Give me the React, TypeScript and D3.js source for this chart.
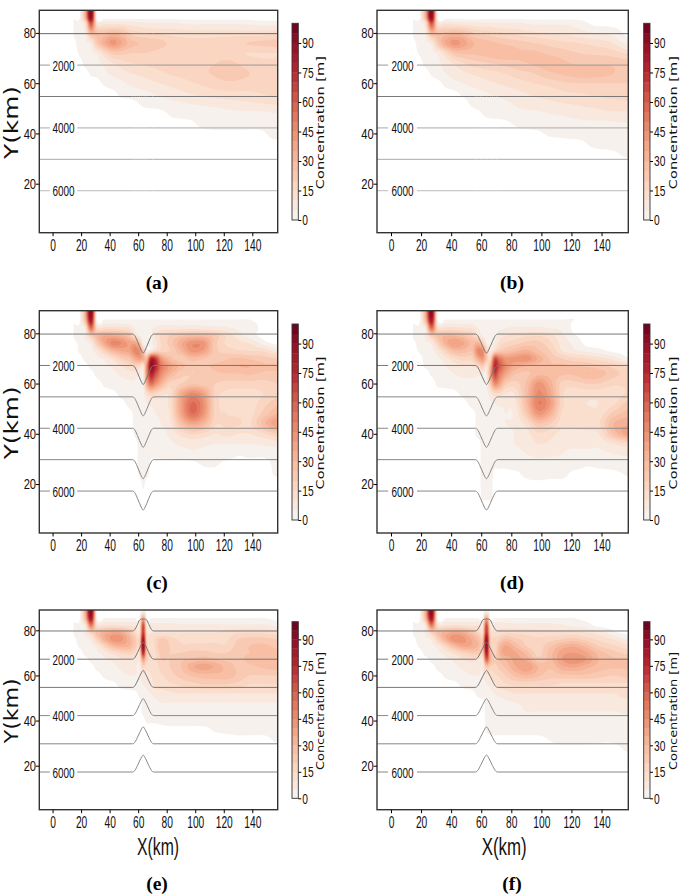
import { useEffect, useRef } from "react";
import * as d3 from "d3";

// grid of the far-field panels (a, b), km
const plainX = [15, 19, 23, 27, 31, 36, 42, 48, 55, 65, 75, 85, 95, 105, 115, 125, 135, 145, 158];
const plainY = [89, 86, 84, 80, 76, 72, 68, 64, 60, 56, 52, 48, 44, 40, 36, 32, 28];
// grid of the seamount panels (c-f), km
const ridgeX = [15, 19, 23, 27, 31, 36, 42, 48, 54, 58, 61, 63.5, 66, 69, 72, 76, 82, 90, 98, 106, 114, 122, 130, 138, 148, 158];
const ridgeY = [89, 85.5, 82, 79, 76, 73, 70, 67, 64, 60, 56, 52, 48, 44, 40, 36, 32, 28, 24, 20, 14];

const concA = [
  [0, 0, 35, 95, 0, 0, 0, 0, 0, 0, 0, 0, 0, 0, 0, 0, 0, 0, 0],
  [0, 0, 32, 90, 0, 0, 0, 0, 0, 0, 0, 0, 0, 0, 0, 0, 0, 0, 0],
  [3, 4, 12, 65, 10, 8, 8, 8, 7, 6, 5, 5, 4, 4, 4, 4, 4, 3, 3],
  [2, 4, 6, 30, 25, 25, 28, 26, 18, 15, 14, 13, 12, 12, 12, 12, 12, 12, 13],
  [0, 3, 4, 7, 22, 33, 42, 36, 27, 24, 22, 18, 17, 17, 18, 19, 20, 21, 22],
  [0, 1.5, 3, 4, 6, 14, 22, 22, 20, 20, 18, 16, 17, 18, 19, 17, 15, 15, 15],
  [0, 0, 2, 3, 4, 6, 10, 13, 15, 16, 17, 18, 18, 19, 20, 21, 18, 16, 16],
  [0, 0, 0, 1.5, 2, 4, 6, 8, 10, 12, 14, 16, 17, 19, 21, 23, 21, 18, 18],
  [0, 0, 0, 0, 0, 1.5, 3, 4, 6, 8, 10, 12, 14, 16, 18, 19, 18, 17, 18],
  [0, 0, 0, 0, 0, 0, 0, 2, 3, 4, 6, 8, 10, 12, 13, 14, 14, 15, 17],
  [0, 0, 0, 0, 0, 0, 0, 0, 0, 2, 3, 4, 5, 6, 7, 8, 9, 10, 11],
  [0, 0, 0, 0, 0, 0, 0, 0, 0, 0, 0, 2, 3, 3, 3, 4, 4, 4, 5],
  [0, 0, 0, 0, 0, 0, 0, 0, 0, 0, 0, 0, 0, 2, 3, 3, 3, 3, 3],
  [0, 0, 0, 0, 0, 0, 0, 0, 0, 0, 0, 0, 0, 0, 0, 0, 0, 0, 3],
  [0, 0, 0, 0, 0, 0, 0, 0, 0, 0, 0, 0, 0, 0, 0, 0, 0, 0, 0],
  [0, 0, 0, 0, 0, 0, 0, 0, 0, 0, 0, 0, 0, 0, 0, 0, 0, 0, 0],
  [0, 0, 0, 0, 0, 0, 0, 0, 0, 0, 0, 0, 0, 0, 0, 0, 0, 0, 0],
];

const concB = [
  [0, 0, 35, 95, 0, 0, 0, 0, 0, 0, 0, 0, 0, 0, 0, 0, 0, 0, 0],
  [0, 0, 32, 90, 0, 0, 0, 0, 0, 0, 0, 0, 0, 0, 0, 0, 0, 0, 0],
  [3, 4, 12, 65, 10, 9, 8, 7, 6, 6, 5, 5, 4, 4, 4, 3, 0, 0, 0],
  [2, 4, 6, 30, 25, 26, 28, 26, 20, 17, 15, 13, 11, 10, 9, 7, 5, 4, 0],
  [0, 3, 4, 7, 22, 35, 42, 38, 30, 27, 24, 22, 20, 18, 16, 15, 13, 11, 3],
  [0, 1.5, 3, 4, 6, 14, 24, 26, 26, 28, 30, 26, 26, 24, 22, 20, 19, 18, 14],
  [0, 0, 2, 3, 4, 7, 11, 15, 18, 20, 22, 24, 26, 28, 26, 24, 24, 24, 22],
  [0, 0, 0, 1.5, 3, 5, 7, 9, 11, 13, 15, 18, 20, 24, 26, 28, 28, 26, 22],
  [0, 0, 0, 0, 0, 2, 4, 5, 7, 9, 11, 13, 15, 17, 19, 20, 20, 20, 20],
  [0, 0, 0, 0, 0, 0, 0, 2, 3, 5, 7, 9, 11, 12, 14, 15, 16, 17, 18],
  [0, 0, 0, 0, 0, 0, 0, 0, 2, 3, 4, 6, 8, 9, 10, 11, 12, 13, 14],
  [0, 0, 0, 0, 0, 0, 0, 0, 0, 2, 3, 4, 4, 5, 6, 7, 8, 9, 9],
  [0, 0, 0, 0, 0, 0, 0, 0, 0, 0, 0, 2, 3, 3, 3, 4, 4, 4, 5],
  [0, 0, 0, 0, 0, 0, 0, 0, 0, 0, 0, 0, 0, 1.5, 2, 3, 3, 3, 3],
  [0, 0, 0, 0, 0, 0, 0, 0, 0, 0, 0, 0, 0, 0, 0, 0, 2, 3, 3],
  [0, 0, 0, 0, 0, 0, 0, 0, 0, 0, 0, 0, 0, 0, 0, 0, 0, 0, 2],
  [0, 0, 0, 0, 0, 0, 0, 0, 0, 0, 0, 0, 0, 0, 0, 0, 0, 0, 0],
];

const concC = [
  [0, 0, 35, 95, 0, 0, 0, 0, 0, 0, 0, 0, 0, 0, 0, 0, 0, 0, 0, 0, 0, 0, 0, 0, 0, 0],
  [0, 0, 30, 85, 1, 1, 1, 1, 1, 1, 1, 1, 1, 1, 1, 1, 1, 1, 1, 1, 1, 1, 1, 1, 0, 0],
  [2, 3, 8, 55, 14, 12, 13, 12, 10, 4, 3, 3, 3, 4, 6, 8, 8, 8, 9, 8, 7, 6, 4, 3, 0, 0],
  [1.5, 4, 6, 20, 28, 35, 35, 32, 25, 12, 5, 3, 3, 4, 10, 16, 20, 25, 28, 28, 22, 14, 8, 3, 0, 0],
  [0, 2, 4, 6, 20, 35, 47, 45, 38, 38, 25, 5, 3, 4, 8, 15, 22, 34, 44, 42, 22, 14, 12, 10, 3, 0],
  [0, 1.5, 3, 4, 8, 18, 30, 35, 38, 48, 45, 25, 4, 8, 15, 18, 20, 30, 42, 38, 22, 18, 16, 15, 14, 8],
  [0, 0, 2, 3, 4, 6, 12, 20, 25, 35, 40, 35, 30, 75, 70, 42, 28, 22, 28, 25, 22, 24, 26, 24, 22, 20],
  [0, 0, 0, 2, 3, 4, 6, 10, 14, 18, 15, 10, 45, 90, 78, 52, 38, 28, 22, 24, 26, 28, 30, 30, 26, 26],
  [0, 0, 0, 0, 2, 3, 4, 6, 8, 8, 5, 6, 45, 78, 65, 46, 32, 22, 20, 22, 24, 25, 25, 26, 24, 24],
  [0, 0, 0, 0, 0, 1.5, 3, 3, 4, 4, 3, 4, 35, 55, 45, 32, 18, 20, 24, 22, 20, 18, 18, 18, 18, 20],
  [0, 0, 0, 0, 0, 0, 0, 2, 3, 3, 3, 3, 12, 18, 16, 12, 12, 34, 46, 38, 18, 14, 13, 13, 15, 18],
  [0, 0, 0, 0, 0, 0, 0, 0, 2, 3, 3, 3, 5, 6, 7, 8, 12, 38, 56, 44, 18, 14, 12, 12, 18, 24],
  [0, 0, 0, 0, 0, 0, 0, 0, 0, 2, 3, 3, 4, 4, 5, 6, 10, 36, 55, 42, 18, 15, 14, 13, 22, 30],
  [0, 0, 0, 0, 0, 0, 0, 0, 0, 2, 3, 3, 3, 3, 4, 5, 8, 26, 36, 30, 16, 16, 16, 14, 28, 40],
  [0, 0, 0, 0, 0, 0, 0, 0, 0, 1.5, 3, 3, 3, 3, 3, 4, 6, 12, 16, 14, 10, 12, 10, 10, 14, 20],
  [0, 0, 0, 0, 0, 0, 0, 0, 0, 0, 2, 3, 3, 2, 3, 3, 4, 6, 7, 6, 5, 5, 5, 5, 6, 7],
  [0, 0, 0, 0, 0, 0, 0, 0, 0, 0, 2, 3, 3, 2, 2, 2, 3, 3, 4, 4, 3, 3, 1.5, 2, 2, 3],
  [0, 0, 0, 0, 0, 0, 0, 0, 0, 0, 2, 3, 3, 0, 0, 0, 0, 0, 0, 1.5, 1.5, 0, 0, 0, 0, 2],
  [0, 0, 0, 0, 0, 0, 0, 0, 0, 0, 1.5, 2, 2, 0, 0, 0, 0, 0, 0, 0, 0, 0, 0, 0, 0, 1.5],
  [0, 0, 0, 0, 0, 0, 0, 0, 0, 0, 0, 1.5, 0, 0, 0, 0, 0, 0, 0, 0, 0, 0, 0, 0, 0, 0],
  [0, 0, 0, 0, 0, 0, 0, 0, 0, 0, 0, 0, 0, 0, 0, 0, 0, 0, 0, 0, 0, 0, 0, 0, 0, 0],
];

const concD = [
  [0, 0, 35, 95, 0, 0, 0, 0, 0, 0, 0, 0, 0, 0, 0, 0, 0, 0, 0, 0, 0, 0, 0, 0, 0, 0],
  [0, 0, 30, 85, 1, 1, 1, 1, 1, 1, 1, 1, 1, 1, 1, 1, 1, 1, 1, 1, 1, 1, 0, 0, 0, 0],
  [2, 3, 8, 55, 14, 12, 12, 11, 10, 5, 3, 3, 3, 3, 4, 5, 6, 6, 6, 5, 4, 0, 0, 0, 0, 0],
  [2, 4, 6, 20, 26, 30, 30, 26, 20, 12, 5, 3, 3, 4, 8, 10, 12, 14, 15, 12, 6, 1.5, 0, 0, 0, 0],
  [0, 3, 4, 6, 18, 32, 40, 36, 28, 32, 22, 6, 4, 6, 12, 16, 18, 22, 22, 16, 8, 4, 0, 0, 0, 0],
  [0, 1.5, 3, 4, 8, 18, 28, 28, 26, 48, 45, 20, 5, 15, 22, 24, 28, 32, 26, 20, 10, 6, 4, 2.5, 0, 0],
  [0, 0, 2, 3, 4, 8, 14, 18, 18, 35, 42, 25, 15, 62, 52, 42, 42, 44, 34, 24, 20, 16, 15, 12, 8, 1.5],
  [0, 0, 1.5, 2, 3, 5, 8, 10, 10, 15, 22, 10, 30, 75, 62, 46, 35, 30, 28, 26, 26, 25, 24, 22, 18, 14],
  [0, 0, 0, 1.5, 2, 3, 5, 6, 6, 6, 6, 6, 36, 68, 52, 38, 26, 24, 28, 28, 26, 26, 30, 28, 22, 18],
  [0, 0, 0, 0, 1.5, 2, 3, 4, 4, 4, 4, 5, 22, 46, 38, 22, 18, 26, 42, 32, 18, 18, 20, 20, 16, 16],
  [0, 0, 0, 0, 0, 0, 0, 2, 3, 3, 3, 3, 8, 14, 14, 10, 10, 28, 46, 36, 16, 12, 12, 12, 12, 16],
  [0, 0, 0, 0, 0, 0, 0, 0, 2, 3, 3, 3, 4, 5, 6, 6, 8, 28, 50, 40, 16, 12, 10, 10, 14, 22],
  [0, 0, 0, 0, 0, 0, 0, 0, 0, 2, 3, 3, 3, 4, 4, 5, 6, 22, 42, 32, 14, 12, 12, 12, 22, 28],
  [0, 0, 0, 0, 0, 0, 0, 0, 0, 2, 3, 3, 3, 3, 4, 5, 6, 12, 24, 20, 12, 12, 14, 14, 30, 34],
  [0, 0, 0, 0, 0, 0, 0, 0, 0, 2, 3, 3, 3, 3, 3, 4, 5, 8, 14, 12, 8, 8, 8, 10, 26, 38],
  [0, 0, 0, 0, 0, 0, 0, 0, 0, 0, 2, 3, 3, 3, 3, 4, 5, 7, 10, 9, 6, 6, 6, 6, 10, 14],
  [0, 0, 0, 0, 0, 0, 0, 0, 0, 0, 2, 3, 3, 3, 2.5, 3, 3, 5, 6, 6, 5, 4, 4, 4, 5, 6],
  [0, 0, 0, 0, 0, 0, 0, 0, 0, 0, 2, 3, 3, 2, 2, 2, 3, 3, 4, 3, 3, 3, 1.5, 2, 3, 4],
  [0, 0, 0, 0, 0, 0, 0, 0, 0, 0, 2, 3, 3, 0, 0, 0, 0, 2, 3, 2, 2, 0, 0, 0, 0, 1.5],
  [0, 0, 0, 0, 0, 0, 0, 0, 0, 0, 2, 2.5, 2, 0, 0, 0, 0, 0, 0, 0, 0, 0, 0, 0, 0, 0],
  [0, 0, 0, 0, 0, 0, 0, 0, 0, 0, 1.5, 2, 1.5, 0, 0, 0, 0, 0, 0, 0, 0, 0, 0, 0, 0, 0],
];

const concE = [
  [0, 0, 35, 95, 0, 0, 0, 0, 0, 0, 0, 0, 0, 0, 0, 0, 0, 0, 0, 0, 0, 0, 0, 0, 0, 0],
  [0, 0, 30, 85, 1, 1, 1, 1, 1, 1, 1, 35, 1, 1, 1, 1, 1, 1, 1, 1, 1, 1, 1, 1, 1, 0],
  [2, 3, 8, 50, 12, 11, 12, 11, 10, 9, 8, 65, 8, 8, 7, 7, 7, 6, 6, 6, 6, 6, 6, 6, 6, 4],
  [2, 4, 6, 18, 26, 32, 36, 35, 25, 15, 12, 70, 14, 10, 10, 10, 10, 10, 10, 10, 10, 12, 14, 14, 14, 12],
  [0, 3, 4, 6, 18, 32, 42, 42, 32, 22, 20, 85, 18, 14, 16, 22, 18, 14, 14, 14, 14, 14, 20, 22, 22, 20],
  [0, 1.5, 3, 4, 7, 16, 28, 32, 30, 22, 20, 90, 22, 14, 16, 25, 20, 16, 16, 16, 16, 16, 22, 25, 26, 24],
  [0, 0, 2, 3, 4, 7, 12, 16, 18, 14, 12, 75, 22, 14, 14, 22, 20, 20, 22, 22, 20, 20, 24, 25, 26, 26],
  [0, 0, 0, 2, 3, 4, 6, 9, 10, 8, 8, 40, 18, 14, 14, 20, 20, 24, 26, 28, 26, 24, 24, 26, 28, 30],
  [0, 0, 0, 0, 2, 3, 4, 6, 7, 6, 5, 18, 12, 12, 12, 18, 20, 25, 34, 38, 34, 28, 24, 24, 26, 28],
  [0, 0, 0, 0, 0, 1.5, 3, 4, 5, 5, 5, 8, 8, 10, 12, 14, 18, 22, 26, 28, 28, 28, 24, 20, 20, 20],
  [0, 0, 0, 0, 0, 0, 0, 2, 3, 4, 4, 5, 6, 8, 12, 12, 14, 16, 18, 20, 20, 20, 18, 15, 15, 15],
  [0, 0, 0, 0, 0, 0, 0, 0, 0, 0, 2, 3, 4, 5, 7, 8, 9, 10, 10, 10, 10, 10, 10, 10, 10, 10],
  [0, 0, 0, 0, 0, 0, 0, 0, 0, 0, 0, 2, 3, 3, 4, 5, 5, 5, 5, 5, 5, 5, 5, 5, 5, 5],
  [0, 0, 0, 0, 0, 0, 0, 0, 0, 0, 0, 2, 3, 3, 3, 3, 4, 4, 4, 4, 4, 4, 4, 4, 4, 4],
  [0, 0, 0, 0, 0, 0, 0, 0, 0, 0, 0, 0, 1.5, 1.5, 1.5, 2, 3, 3, 3, 3, 3, 3, 3, 3, 3, 3],
  [0, 0, 0, 0, 0, 0, 0, 0, 0, 0, 0, 0, 0, 0, 0, 0, 0, 0, 0, 0, 1.5, 2, 3, 3, 3, 3],
  [0, 0, 0, 0, 0, 0, 0, 0, 0, 0, 0, 0, 0, 0, 0, 0, 0, 0, 0, 0, 0, 0, 0, 0, 0, 2],
  [0, 0, 0, 0, 0, 0, 0, 0, 0, 0, 0, 0, 0, 0, 0, 0, 0, 0, 0, 0, 0, 0, 0, 0, 0, 0],
  [0, 0, 0, 0, 0, 0, 0, 0, 0, 0, 0, 0, 0, 0, 0, 0, 0, 0, 0, 0, 0, 0, 0, 0, 0, 0],
  [0, 0, 0, 0, 0, 0, 0, 0, 0, 0, 0, 0, 0, 0, 0, 0, 0, 0, 0, 0, 0, 0, 0, 0, 0, 0],
  [0, 0, 0, 0, 0, 0, 0, 0, 0, 0, 0, 0, 0, 0, 0, 0, 0, 0, 0, 0, 0, 0, 0, 0, 0, 0],
];

const concF = [
  [0, 0, 35, 95, 0, 0, 0, 0, 0, 0, 0, 0, 0, 0, 0, 0, 0, 0, 0, 0, 0, 0, 0, 0, 0, 0],
  [0, 0, 30, 85, 1, 1, 1, 1, 1, 1, 1, 35, 1, 1, 1, 1, 1, 1, 1, 1, 1, 1, 0, 0, 0, 0],
  [2, 3, 8, 50, 12, 11, 12, 11, 10, 10, 10, 65, 10, 8, 8, 8, 7, 7, 7, 7, 6, 4, 3, 0, 0, 0],
  [2, 4, 6, 18, 26, 32, 36, 34, 26, 18, 15, 72, 18, 12, 12, 14, 14, 13, 12, 12, 12, 12, 10, 8, 2, 0],
  [0, 3, 4, 6, 18, 32, 44, 42, 34, 28, 24, 88, 24, 16, 20, 26, 22, 18, 16, 18, 20, 22, 18, 14, 10, 4],
  [0, 1.5, 3, 4, 7, 16, 28, 36, 34, 30, 28, 90, 24, 16, 28, 36, 30, 20, 18, 24, 32, 34, 28, 20, 16, 12],
  [0, 0, 2, 3, 4, 7, 12, 18, 22, 22, 20, 80, 30, 18, 30, 38, 36, 28, 18, 28, 38, 40, 36, 28, 22, 18],
  [0, 0, 0, 2, 3, 4, 6, 10, 12, 10, 10, 60, 32, 22, 26, 30, 36, 34, 22, 28, 40, 45, 40, 30, 26, 26],
  [0, 0, 0, 0, 2, 3, 4, 6, 7, 7, 6, 25, 20, 18, 22, 26, 34, 40, 30, 26, 34, 36, 32, 28, 26, 26],
  [0, 0, 0, 0, 0, 1.5, 3, 4, 5, 5, 5, 8, 10, 14, 16, 20, 26, 30, 26, 22, 24, 24, 24, 22, 20, 22],
  [0, 0, 0, 0, 0, 0, 0, 2, 3, 4, 4, 5, 6, 9, 12, 14, 16, 16, 16, 16, 14, 14, 14, 14, 14, 14],
  [0, 0, 0, 0, 0, 0, 0, 0, 0, 2, 3, 3, 4, 5, 7, 8, 10, 10, 10, 10, 10, 10, 10, 10, 10, 12],
  [0, 0, 0, 0, 0, 0, 0, 0, 0, 0, 0, 2, 3, 3, 3, 4, 5, 6, 7, 7, 7, 7, 7, 7, 8, 9],
  [0, 0, 0, 0, 0, 0, 0, 0, 0, 0, 0, 2, 3, 3, 3, 3, 4, 5, 5, 5, 5, 5, 5, 5, 5, 6],
  [0, 0, 0, 0, 0, 0, 0, 0, 0, 0, 0, 2, 3, 3, 3, 3, 3, 3, 3, 3, 3, 3, 3, 3, 3, 4],
  [0, 0, 0, 0, 0, 0, 0, 0, 0, 0, 0, 1.5, 2, 3, 3, 3, 3, 3, 3, 3, 3, 3, 3, 3, 3, 3],
  [0, 0, 0, 0, 0, 0, 0, 0, 0, 0, 0, 0, 0, 0, 0, 0, 0, 0, 0, 1.5, 3, 3, 3, 2, 2, 3],
  [0, 0, 0, 0, 0, 0, 0, 0, 0, 0, 0, 0, 0, 0, 0, 0, 0, 0, 0, 0, 0, 0, 0, 0, 0, 2],
  [0, 0, 0, 0, 0, 0, 0, 0, 0, 0, 0, 0, 0, 0, 0, 0, 0, 0, 0, 0, 0, 0, 0, 0, 0, 0],
  [0, 0, 0, 0, 0, 0, 0, 0, 0, 0, 0, 0, 0, 0, 0, 0, 0, 0, 0, 0, 0, 0, 0, 0, 0, 0],
  [0, 0, 0, 0, 0, 0, 0, 0, 0, 0, 0, 0, 0, 0, 0, 0, 0, 0, 0, 0, 0, 0, 0, 0, 0, 0],
];

// depth contours, km of Y, and the labels some of them carry
const depthY = [79.7, 67.2, 54.7, 42.2, 29.7, 17.2];
const depthLabels = ["", "2000", "", "4000", "", "6000"];
// seamount / canyon cross-section round x = 63.5
const hillCentre = 63.5;
const hillOffset = [-7.5, -6.5, -5.5, -4, -2.5, -1, 0, 1, 2.5, 4, 5.5, 6.5, 7.5];
const hillShape = [0, 0.03, 0.13, 0.38, 0.65, 0.9, 1, 0.9, 0.65, 0.38, 0.13, 0.03, 0];

const xTicks = [0, 20, 40, 60, 80, 100, 120, 140];
const yTicks = [20, 40, 60, 80];
const barTicks = [0, 15, 30, 45, 60, 75, 90];
const colourValues = [0, 5, 15, 30, 45, 60, 75, 90, 100];
const colourStops = ["#f7f4f2", "#f8ece5", "#fbdac8", "#f7b99d", "#ec9070", "#d6604d", "#b92631", "#950e26", "#67001f"];
const levels = d3.range(5, 100, 5);

const cols = { left: { l: 39.3, r: 277.7, bar: 292, unit: 321, title: 157 }, right: { l: 377, r: 628.3, bar: 643.7, unit: 674, title: 512 } };
const rows = {
  top: { t: 10.3, b: 232.7, barT: 23.3, barB: 220, title: 289, unitLen: 133 },
  mid: { t: 310.7, b: 533, barT: 324, barB: 520, title: 589, unitLen: 133 },
  low: { t: 610, b: 809.7, barT: 621.7, barB: 798.3, title: 890, unitLen: 118 },
};

const panels = [
  { name: "(a)", col: cols.left, row: rows.top, xs: plainX, ys: plainY, conc: concA, hill: 0, ink: ["#666", "#999", "#777", "#aaa", "#aaa", "#bbb"] },
  { name: "(b)", col: cols.right, row: rows.top, xs: plainX, ys: plainY, conc: concB, hill: 0, ink: ["#666", "#999", "#777", "#aaa", "#aaa", "#bbb"] },
  { name: "(c)", col: cols.left, row: rows.mid, xs: ridgeX, ys: ridgeY, conc: concC, hill: -7.6, ink: ["#777", "#777", "#888", "#888", "#888", "#888"] },
  { name: "(d)", col: cols.right, row: rows.mid, xs: ridgeX, ys: ridgeY, conc: concD, hill: -7.6, ink: ["#777", "#777", "#888", "#888", "#888", "#888"] },
  { name: "(e)", col: cols.left, row: rows.low, xs: ridgeX, ys: ridgeY, conc: concE, hill: 7.5, ink: ["#777", "#777", "#777", "#888", "#888", "#888"] },
  { name: "(f)", col: cols.right, row: rows.low, xs: ridgeX, ys: ridgeY, conc: concF, hill: 7.5, ink: ["#777", "#777", "#777", "#888", "#888", "#888"] },
];

const sans = "'Liberation Sans', sans-serif";

// Catmull-Rom along one line of readings, only to round the contours off
const refine = (line: number[], k: number) => {
  const out: number[] = [];
  const at = (i: number) => line[Math.max(0, Math.min(line.length - 1, i))] ?? 0;
  for (let i = 0; i < line.length - 1; i++) {
    for (let s = 0; s < k; s++) {
      const t = s / k;
      const [a, b, c, d] = [at(i - 1), at(i), at(i + 1), at(i + 2)];
      out.push(0.5 * (2 * b + (c - a) * t + (2 * a - 5 * b + 4 * c - d) * t * t + (3 * b - a - 3 * c + d) * t * t * t));
    }
  }
  out.push(at(line.length - 1));
  return out;
};

const App = () => {
  const ref = useRef<SVGSVGElement>(null);

  useEffect(() => {
    const svg = d3.select(ref.current);
    svg.selectAll("*").remove(); // Clear previous render

    const colour = d3.scaleLinear<string>().domain(colourValues).range(colourStops);
    const defs = svg.append("defs");
    defs.append("filter").attr("id", "soft").append("feGaussianBlur").attr("stdDeviation", 0.6);

    panels.forEach((p, idx) => {
      const x = d3.scaleLinear().domain([-9.3, 157.8]).range([p.col.l, p.col.r]);
      const y = d3.scaleLinear().domain([0.5, 89]).range([p.row.b, p.row.t]);
      const g = svg.append("g");

      defs.append("clipPath").attr("id", `box${idx}`).append("rect")
        .attr("x", p.col.l).attr("y", p.row.t)
        .attr("width", p.col.r - p.col.l).attr("height", p.row.b - p.row.t);

      // Filled contours: grid index -> km -> pixel
      const k = 6;
      const wide = p.conc.map((r) => refine(r, k));
      const columns = wide[0].map((_, j) => refine(wide.map((r) => r[j]), k));
      const nx = columns.length;
      const ny = columns[0].length;
      const values = new Float64Array(nx * ny);
      columns.forEach((col, j) => col.forEach((v, i) => { values[i * nx + j] = Math.max(0, Math.min(100, v)); }));

      const kmX = d3.scaleLinear().domain(p.xs.map((_, i) => i * k + 0.5)).range(p.xs);
      const kmY = d3.scaleLinear().domain(p.ys.map((_, i) => i * k + 0.5)).range(p.ys);
      const path = d3.geoPath(d3.geoTransform({
        point(u: number, v: number) { this.stream.point(x(kmX(u)), y(kmY(v))); },
      }));
      const bands = d3.contours().size([nx, ny]).thresholds([1, ...levels])(Array.from(values));

      g.append("g").attr("clip-path", `url(#box${idx})`)
        .append("g").attr("filter", "url(#soft)")
        .selectAll("path").data(bands).join("path")
        .attr("d", (d) => path(d as any))
        .attr("fill", (d) => colour(d.value === 1 ? 2 : d.value + 2.5));

      // Depth lines
      const line = d3.line<[number, number]>().x((d) => x(d[0])).y((d) => y(d[1])).curve(d3.curveMonotoneX);
      const lines = g.append("g").attr("clip-path", `url(#box${idx})`).attr("fill", "none").attr("stroke-width", 1);
      depthY.forEach((base, i) => {
        const pts: [number, number][] = hillOffset.map((o, j) => [hillCentre + o, Math.min(base + p.hill * hillShape[j], 85)]);
        const gap = depthLabels[i] !== "";
        const start: [number, number][] = gap ? [[-9.3, base], [-1.9, base]] : [[-9.3, base]];
        lines.append("path").attr("stroke", p.ink[i])
          .attr("d", line(gap ? [[17.3, base], ...pts, [157.8, base]] : [...start, ...pts, [157.8, base]]));
        if (gap) lines.append("path").attr("stroke", p.ink[i]).attr("d", line(start));
      });

      // Labels of the depth lines
      depthLabels.forEach((label, i) => {
        if (!label) return;
        g.append("text").text(label)
          .attr("transform", `translate(${x(7.7)},${y(depthY[i]) + 5.5}) scale(0.64,1)`)
          .attr("text-anchor", "middle").attr("font-family", sans).attr("font-size", 15.5).attr("fill", "#111");
      });

      // Frame
      g.append("rect").attr("x", p.col.l).attr("y", p.row.t)
        .attr("width", p.col.r - p.col.l).attr("height", p.row.b - p.row.t)
        .attr("fill", "none").attr("stroke", "#333").attr("stroke-width", 1.4);

      // Axes
      const axisX = g.append("g").attr("transform", `translate(0,${p.row.b})`)
        .call(d3.axisBottom(x).tickValues(xTicks).tickFormat(d3.format("d")).tickSize(3.5).tickPadding(3));
      const axisY = g.append("g").attr("transform", `translate(${p.col.l},0)`)
        .call(d3.axisLeft(y).tickValues(yTicks).tickFormat(d3.format("d")).tickSize(3.5).tickPadding(1));
      axisX.select(".domain").remove();
      axisY.select(".domain").remove();
      axisX.selectAll("text").attr("font-family", sans).attr("font-size", 16.5).attr("fill", "#111").attr("transform", "scale(0.62,1)");
      axisY.selectAll("text").attr("font-family", sans).attr("font-size", 15.5).attr("fill", "#111").attr("transform", "scale(0.72,1)");

      // Colour bar
      const barW = 6.3;
      const bar = d3.scaleLinear().domain([0, 100]).range([p.row.barB, p.row.barT]);
      g.append("g").selectAll("rect").data([0, ...levels]).join("rect")
        .attr("x", p.col.bar).attr("width", barW)
        .attr("y", (d) => bar(d + 5)).attr("height", (d) => bar(d) - bar(d + 5) + 0.3)
        .attr("fill", (d) => colour(d === 0 ? 2 : d + 2.5));
      g.append("rect").attr("x", p.col.bar).attr("y", p.row.barT).attr("width", barW)
        .attr("height", p.row.barB - p.row.barT).attr("fill", "none").attr("stroke", "#333").attr("stroke-width", 0.9);
      const axisBar = g.append("g").attr("transform", `translate(${p.col.bar + barW},0)`)
        .call(d3.axisRight(bar).tickValues(barTicks).tickFormat(d3.format("d")).tickSize(3).tickPadding(3));
      axisBar.select(".domain").remove();
      axisBar.selectAll("text").attr("font-family", sans).attr("font-size", 15.5).attr("fill", "#111").attr("transform", "scale(0.66,1)");

      g.append("text").text("Concentration [m]")
        .attr("transform", `translate(${p.col.unit + 3},${(p.row.barT + p.row.barB) / 2 + 1}) rotate(-90)`)
        .attr("text-anchor", "middle").attr("font-family", "'DejaVu Sans', sans-serif").attr("font-size", 10)
        .attr("textLength", p.row.unitLen).attr("lengthAdjust", "spacingAndGlyphs").attr("fill", "#111");

      // Axis titles, on the outer panels only
      if (p.col === cols.left) {
        g.append("text").text("Y(km)")
          .attr("transform", `translate(18,${(p.row.t + p.row.b) / 2 + 1}) rotate(-90)`)
          .attr("text-anchor", "middle").attr("font-family", "'DejaVu Sans', sans-serif").attr("font-size", 19)
          .attr("textLength", p.row === rows.low ? 65 : 73).attr("lengthAdjust", "spacingAndGlyphs").attr("fill", "#111");
      }
      if (p.row === rows.low) {
        g.append("text").text("X(km)")
          .attr("x", (p.col.l + p.col.r) / 2 + (p.col === cols.left ? -0.5 : 1.5)).attr("y", 855)
          .attr("text-anchor", "middle").attr("font-family", sans).attr("font-size", 23)
          .attr("textLength", p.col === cols.left ? 42 : 45).attr("lengthAdjust", "spacingAndGlyphs").attr("fill", "#111");
      }

      g.append("text").text(p.name)
        .attr("x", p.col.title).attr("y", p.row.title).attr("text-anchor", "middle")
        .attr("font-family", "'Liberation Serif', serif").attr("font-weight", "bold").attr("font-size", 19.5).attr("fill", "#000");
    });
  }, []);

  return <svg ref={ref} width={685} height={896} style={{ position: "absolute", left: 0, top: 0, background: "#fff" }} />;
};

export default App;
